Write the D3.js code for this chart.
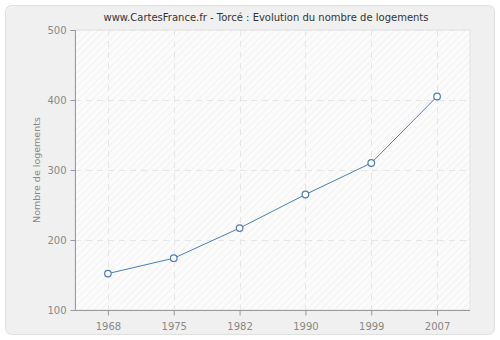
<!DOCTYPE html>
<html>
<head>
<meta charset="utf-8">
<script src="https://cdn.jsdelivr.net/npm/d3@7"></script>
<style>
  html, body { margin: 0; padding: 0; background: #ffffff; }
  svg { display: block; font-family: "DejaVu Sans", Verdana, sans-serif; }
</style>
</head>
<body>
<svg id="chart" width="500" height="340"></svg>
<script>
// Housing count in Torcé by census year
const years = ["1968", "1975", "1982", "1990", "1999", "2007"];
const logements = [152, 174, 217, 265, 310, 405];
const yTicks = [100, 200, 300, 400, 500];

const title = "www.CartesFrance.fr - Torcé : Evolution du nombre de logements";
const yLabel = "Nombre de logements";

const svg = d3.select("#chart");
const W = 500, H = 340;
const plot = { left: 75, right: 470, top: 30, bottom: 310 };

// Outer panel
svg.append("rect")
  .attr("x", 5.5).attr("y", 5.5)
  .attr("width", W - 11).attr("height", H - 11)
  .attr("rx", 6).attr("ry", 6)
  .attr("fill", "#f0f0f0")
  .attr("stroke", "#e0e0e0");

// Diagonal hatch for plot background
const defs = svg.append("defs");
const pat = defs.append("pattern")
  .attr("id", "hatch")
  .attr("patternUnits", "userSpaceOnUse")
  .attr("width", 5).attr("height", 5)
  .attr("patternTransform", "rotate(45)");
pat.append("rect").attr("width", 5).attr("height", 5).attr("fill", "#fbfbfb");
pat.append("line")
  .attr("x1", 0).attr("y1", 0).attr("x2", 0).attr("y2", 5)
  .attr("stroke", "#ececec").attr("stroke-width", 1.2);

const x = d3.scalePoint()
  .domain(years)
  .range([plot.left, plot.right])
  .padding(0.5);

const y = d3.scaleLinear()
  .domain([100, 500])
  .range([plot.bottom, plot.top]);

svg.append("rect")
  .attr("x", plot.left).attr("y", plot.top)
  .attr("width", plot.right - plot.left)
  .attr("height", plot.bottom - plot.top)
  .attr("fill", "url(#hatch)")
  .attr("stroke", "#e2e2e2");

// Dashed grid
const grid = svg.append("g")
  .attr("stroke", "#e6e6e6")
  .attr("stroke-dasharray", "6,5")
  .attr("stroke-width", 1);
grid.selectAll(".gy").data(yTicks.slice(1))
  .join("line")
  .attr("x1", plot.left).attr("x2", plot.right)
  .attr("y1", d => Math.round(y(d)) + 0.5)
  .attr("y2", d => Math.round(y(d)) + 0.5);
grid.selectAll(".gx").data(years)
  .join("line")
  .attr("y1", plot.top).attr("y2", plot.bottom)
  .attr("x1", d => Math.round(x(d)) + 0.5)
  .attr("x2", d => Math.round(x(d)) + 0.5);

// Axes
const yAxis = svg.append("g")
  .attr("transform", `translate(${plot.left + 0.5},0)`)
  .call(d3.axisLeft(y).tickValues(yTicks).tickSize(5).tickPadding(4).tickFormat(d3.format("d")));
const xAxis = svg.append("g")
  .attr("transform", `translate(0,${plot.bottom + 0.5})`)
  .call(d3.axisBottom(x).tickSize(5).tickPadding(7));

[yAxis, xAxis].forEach(g => {
  g.select(".domain").attr("stroke", "#999999");
  g.selectAll(".tick line").attr("stroke", "#999999");
  g.selectAll(".tick text")
    .attr("fill", "#888888")
    .style("font-size", "10px")
    .style("font-family", "\"DejaVu Sans\", Verdana, sans-serif");
});
yAxis.select(".domain").attr("d", `M-5,${plot.top + 0.5}H0V${plot.bottom}`);
xAxis.select(".domain").attr("d", `M${plot.left},0H${plot.right}`);

// Line and markers
const line = d3.line()
  .x((d, i) => x(years[i]))
  .y(d => y(d));

svg.append("path")
  .datum(logements)
  .attr("d", line)
  .attr("fill", "none")
  .attr("stroke", "#4e7db5")
  .attr("stroke-width", 1);

svg.selectAll(".pt").data(logements)
  .join("circle")
  .attr("cx", (d, i) => x(years[i]))
  .attr("cy", d => y(d))
  .attr("r", 3.3)
  .attr("fill", "#ffffff")
  .attr("stroke", "#4e7db5")
  .attr("stroke-width", 1.2);

// Title
svg.append("text")
  .attr("x", 266).attr("y", 21)
  .attr("text-anchor", "middle")
  .attr("fill", "#333333")
  .style("font-size", "10px")
  .text(title);

// Y label
svg.append("text")
  .attr("transform", `translate(40,${(plot.top + plot.bottom) / 2}) rotate(-90)`)
  .attr("text-anchor", "middle")
  .attr("fill", "#888888")
  .style("font-size", "9.5px")
  .text(yLabel);
</script>
</body>
</html>
